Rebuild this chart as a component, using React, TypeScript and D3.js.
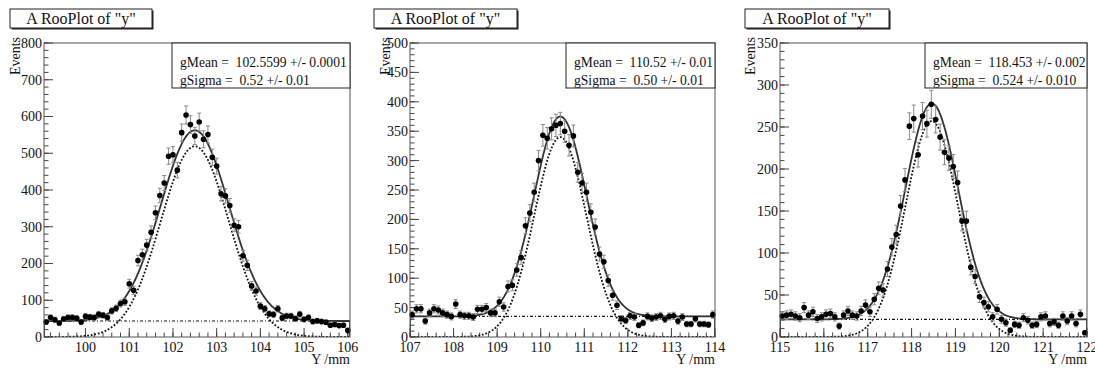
import React from 'react';
import * as d3 from 'd3';

// ---------- data ----------
const p1Counts = [41,53,47,38,49,53,53,51,41,56, 54,53,62,59,53,71,78,91,96,145,
  127,208,224,250,285,338,385,419,492,496, 454,556,604,578,547,585,538,551,489,465,
  390,384,358,304,300,221,195,139,125,84, 77,63,61,77,52,57,57,50,62,48,
  53,42,44,42,40,32,34,31,32,18];
const p2Counts = [38,48,48,27,41,48,46,41,38,35, 56,38,36,36,34,47,47,50,41,41,
  60,51,86,88,114,135,189,211,246,300, 343,338,354,360,363,350,326,342,280,262,
  246,212,187,141,128,96,71,54,31,28, 36,34,20,24,35,32,34,36,30,35,
  36,27,34,22,22,31,22,22,21,38];
const p3Counts = [25,26,27,25,23,35,26,30,22,24, 27,28,24,13,26,31,26,25,31,38,
  30,45,58,56,81,107,122,156,187,251, 260,217,263,254,277,259,238,220,213,203,
  184,138,138,83,72,48,41,36,24,33, 21,17,8,15,14,23,20,14,15,24,
  25,16,18,14,25,19,25,16,27,5];

const p1Range = [99.05, 106.05];
const p2Range = [107, 114];
const p3Range = [115, 122];

const p1XTicks = [100, 101, 102, 103, 104, 105, 106];
const p2XTicks = [107, 108, 109, 110, 111, 112, 113, 114];
const p3XTicks = [115, 116, 117, 118, 119, 120, 121, 122];

const p1YTicks = [0, 100, 200, 300, 400, 500, 600, 700, 800];
const p2YTicks = [0, 50, 100, 150, 200, 250, 300, 350, 400, 450, 500];
const p3YTicks = [0, 50, 100, 150, 200, 250, 300, 350];

const p1Stats = ['gMean =  102.5599 +/- 0.0001', 'gSigma =  0.52 +/- 0.01'];
const p2Stats = ['gMean =  110.52 +/- 0.01', 'gSigma =  0.50 +/- 0.01'];
const p3Stats = ['gMean =  118.453 +/- 0.002', 'gSigma =  0.524 +/- 0.010'];

// fitted model parameters (background level, signal amplitude, mean, width)
const p1Fit = [43.5, 519, 102.5, 0.78];
const p2Fit = [35, 340, 110.45, 0.6];
const p3Fit = [21, 257, 118.46, 0.6];

const titleText = 'A RooPlot of "y"';
const yTitle = 'Events';
const xTitle = 'Y /mm';

// ---------- layout ----------
const FONT = '"Liberation Serif", "Times New Roman", serif';
const frameTop = 43;
const frameBottom = 337;

type PanelCfg = {
  counts: number[]; range: number[]; xTicks: number[]; yTicks: number[];
  stats: string[]; fit: number[];
  left: number; right: number; yMinorStep: number;
  titleX: number; titleW: number; statsX: number; eventsX: number; id: string;
};

const panels: PanelCfg[] = [
  { counts: p1Counts, range: p1Range, xTicks: p1XTicks, yTicks: p1YTicks, stats: p1Stats, fit: p1Fit,
    left: 44, right: 350, yMinorStep: 20, titleX: 10, titleW: 142, statsX: 172, eventsX: 15, id: 'a' },
  { counts: p2Counts, range: p2Range, xTicks: p2XTicks, yTicks: p2YTicks, stats: p2Stats, fit: p2Fit,
    left: 410, right: 715, yMinorStep: 10, titleX: 374, titleW: 143, statsX: 566, eventsX: 385, id: 'b' },
  { counts: p3Counts, range: p3Range, xTicks: p3XTicks, yTicks: p3YTicks, stats: p3Stats, fit: p3Fit,
    left: 780, right: 1087, yMinorStep: 10, titleX: 745, titleW: 144, statsX: 925, eventsX: 750, id: 'c' },
];

function Panel({ p }: { p: PanelCfg }) {
  const x = d3.scaleLinear().domain(p.range).range([p.left, p.right]);
  const yMax = p.yTicks[p.yTicks.length - 1];
  const y = d3.scaleLinear().domain([0, yMax]).range([frameBottom, frameTop]);
  const n = p.counts.length;
  const bw = (p.range[1] - p.range[0]) / n;
  const pts = p.counts.map((c, i) => ({ xv: p.range[0] + (i + 0.5) * bw, c }));

  const [bg, amp, mu, sg] = p.fit;
  const sig = (v: number) => amp * Math.exp(-0.5 * ((v - mu) / sg) ** 2);
  const xs = d3.range(0, 401).map(i => p.range[0] + (p.range[1] - p.range[0]) * i / 400);
  const line = d3.line<[number, number]>().x(d => x(d[0])).y(d => y(d[1]));
  const total: [number, number][] = [[p.range[0], 0], ...xs.map(v => [v, bg + sig(v)] as [number, number]), [p.range[1], 0]];
  const signal: [number, number][] = xs.map(v => [v, sig(v)] as [number, number]);
  const bgLine: [number, number][] = [[p.range[0], bg], [p.range[1], bg]];

  const yMinor = d3.range(0, yMax + 0.001, p.yMinorStep);
  const xMinor = d3.range(Math.ceil(p.range[0] / 0.2) * 0.2, p.range[1] + 0.001, 0.2);

  const statsW = p.right - p.statsX;
  const tickColor = '#444';

  return (
    <g fontFamily={FONT}>
      <defs>
        <clipPath id={'clip' + p.id}>
          <rect x={p.left} y={frameTop} width={p.right - p.left} height={frameBottom - frameTop} />
        </clipPath>
      </defs>
      {/* title box */}
      <rect x={p.titleX + 1.5} y={10.5} width={p.titleW} height={19} fill="#222" />
      <rect x={p.titleX} y={9} width={p.titleW} height={19} fill="white" stroke="#222" strokeWidth={1} />
      <text x={p.titleX + p.titleW / 2} y={24} textAnchor="middle" fontSize={16} fill="#111">{titleText}</text>

      {/* ticks */}
      {yMinor.map((v, i) => (
        <line key={'ym' + i} x1={p.left} x2={p.left + 4.5} y1={y(v)} y2={y(v)} stroke={tickColor} strokeWidth={1} />
      ))}
      {p.yTicks.map((v, i) => (
        <line key={'yM' + i} x1={p.left} x2={p.left + 9} y1={y(v)} y2={y(v)} stroke={tickColor} strokeWidth={1} />
      ))}
      {xMinor.map((v, i) => (
        <line key={'xm' + i} x1={x(v)} x2={x(v)} y1={frameBottom} y2={frameBottom - 4.5} stroke={tickColor} strokeWidth={1} />
      ))}
      {p.xTicks.map((v, i) => (
        <line key={'xM' + i} x1={x(v)} x2={x(v)} y1={frameBottom} y2={frameBottom - 9} stroke={tickColor} strokeWidth={1} />
      ))}

      {/* tick labels */}
      {p.yTicks.map((v, i) => (
        <text key={'yl' + i} x={p.left - 2} y={y(v)} dy="0.35em" textAnchor="end" fontSize={14} fill="#111">{v}</text>
      ))}
      {p.xTicks.map((v, i) => (
        <text key={'xl' + i} x={x(v)} y={frameBottom + 15} textAnchor="middle" fontSize={14} fill="#111">{v}</text>
      ))}
      <text x={p.right} y={364} textAnchor="end" fontSize={14} fill="#111">{xTitle}</text>
      <text transform={`translate(${p.eventsX + 5},37) rotate(-90)`} textAnchor="end" fontSize={14} fill="#111">{yTitle}</text>

      {/* curves */}
      <g clipPath={`url(#clip${p.id})`}>
        <path d={line(bgLine) || ''} fill="none" stroke="#111" strokeWidth={1.2} strokeDasharray="3,2,1,2" />
        <path d={line(signal) || ''} fill="none" stroke="#111" strokeWidth={1.8} strokeDasharray="1.8,1.8" />
        <path d={line(total) || ''} fill="none" stroke="#333" strokeWidth={1.8} />
      </g>

      {/* data points */}
      {pts.map((d, i) => {
        const e = Math.sqrt(d.c);
        const cx = x(d.xv);
        return (
          <g key={'p' + i}>
            <line x1={cx} x2={cx} y1={y(d.c + e)} y2={y(Math.max(0, d.c - e))} stroke="#888" strokeWidth={1} />
            <line x1={cx - 2} x2={cx + 2} y1={y(d.c + e)} y2={y(d.c + e)} stroke="#888" strokeWidth={1} />
            <line x1={cx - 2} x2={cx + 2} y1={y(Math.max(0, d.c - e))} y2={y(Math.max(0, d.c - e))} stroke="#888" strokeWidth={1} />
            <circle cx={cx} cy={y(d.c)} r={2.8} fill="#000" />
          </g>
        );
      })}

      {/* frame */}
      <rect x={p.left} y={frameTop} width={p.right - p.left} height={frameBottom - frameTop} fill="none" stroke="#555" strokeWidth={1} />

      {/* stats box */}
      <rect x={p.statsX} y={frameTop} width={statsW} height={45} fill="white" stroke="#222" strokeWidth={1} />
      {p.stats.map((s, i) => (
        <text key={'s' + i} x={p.statsX + 8} y={67 + i * 18} fontSize={13.6} fill="#111" style={{ whiteSpace: 'pre' }}>{s}</text>
      ))}
    </g>
  );
}

export default function App() {
  return (
    <svg width={1095} height={370} style={{ position: 'absolute', left: 0, top: 0, background: 'white' }}>
      <rect x={0} y={0} width={1095} height={370} fill="white" />
      {panels.map(p => <Panel key={p.id} p={p} />)}
    </svg>
  );
}
